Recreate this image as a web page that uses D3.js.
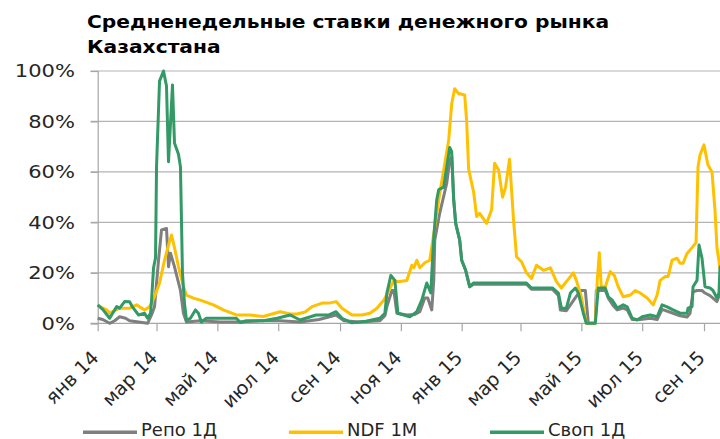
<!DOCTYPE html>
<html>
<head>
<meta charset="utf-8">
<script src="https://cdn.jsdelivr.net/npm/d3@7"></script>
<style>
  body { margin: 0; background: #fff; }
  svg { display: block; font-family: 'DejaVu Sans', Verdana, sans-serif; }
  .title { font-size: 18px; font-weight: bold; fill: #000; }
  .tick-label { font-size: 18px; fill: #262626; }
  .legend-label { font-size: 18px; fill: #262626; }
</style>
</head>
<body>
<svg></svg>
<script>
const SVG_MEASURES = {
  width: 720,
  height: 439,
  plotLeft: 97.7,
  plotTop: 71,
  plotBottom: 323.3,
  firstTickX: 97.7,
  lastTickX: 704
}

const TITLE_LINES = ['Средненедельные ставки денежного рынка', 'Казахстана']
const MONTH_NAMES = ['янв', 'фев', 'мар', 'апр', 'май', 'июн', 'июл', 'авг', 'сен', 'окт', 'ноя', 'дек']
const Y_TICKS = [0, 20, 40, 60, 80, 100]
const SERIES_NAMES = ['Репо 1Д', 'NDF 1M', 'Своп 1Д']
const SERIES_COLORS = ['#7f7f7f', '#ffc000', '#339966']

// Репо 1Д, %
const repo = [
  ['2014-01-01', 2], ['2014-01-06', 1.5], ['2014-01-13', 0], ['2014-01-18', 1], ['2014-01-23', 2.6],
  ['2014-01-29', 2], ['2014-02-02', 1], ['2014-02-11', 0.5], ['2014-02-20', 0], ['2014-02-24', 3.3],
  ['2014-02-27', 6.6], ['2014-03-03', 25], ['2014-03-06', 37], ['2014-03-11', 37.6], ['2014-03-13', 22.4],
  ['2014-03-15', 27.8], ['2014-03-19', 22.4], ['2014-03-25', 13], ['2014-03-28', 4], ['2014-03-31', 0.5],
  ['2014-04-14', 1], ['2014-05-04', 0.5], ['2014-05-24', 0.5], ['2014-06-13', 1], ['2014-07-03', 1],
  ['2014-07-23', 0.5], ['2014-08-11', 1.5], ['2014-08-28', 3.3], ['2014-09-05', 1], ['2014-09-20', 0.5],
  ['2014-10-11', 1], ['2014-10-16', 3], ['2014-10-18', 6.6], ['2014-10-23', 13], ['2014-10-25', 13],
  ['2014-10-28', 4], ['2014-11-07', 3.3], ['2014-11-15', 3.5], ['2014-11-20', 4.6], ['2014-11-25', 10],
  ['2014-11-28', 10], ['2014-12-02', 5.3], ['2014-12-04', 17], ['2014-12-05', 33], ['2014-12-10', 43.7],
  ['2014-12-17', 55.5], ['2014-12-20', 64.7], ['2014-12-22', 66], ['2014-12-24', 49], ['2014-12-26', 39.6],
  ['2014-12-30', 33], ['2015-01-01', 25], ['2015-01-05', 21], ['2015-01-09', 14.5], ['2015-01-13', 15.5],
  ['2015-03-07', 15.5], ['2015-03-12', 13.5], ['2015-04-02', 13.5], ['2015-04-08', 11], ['2015-04-10', 5.3],
  ['2015-04-16', 5], ['2015-04-23', 9], ['2015-04-30', 13], ['2015-05-05', 13], ['2015-05-08', 0],
  ['2015-05-15', 0], ['2015-05-16', 13], ['2015-05-25', 13], ['2015-05-28', 10], ['2015-06-02', 7],
  ['2015-06-06', 5.3], ['2015-06-12', 6], ['2015-06-16', 5.3], ['2015-06-21', 1.5], ['2015-06-29', 1.5],
  ['2015-07-09', 2], ['2015-07-16', 1.5], ['2015-07-21', 5.5], ['2015-08-01', 4], ['2015-08-08', 3],
  ['2015-08-15', 2.5], ['2015-08-18', 4], ['2015-08-21', 12.5], ['2015-08-25', 13], ['2015-08-30', 13],
  ['2015-09-02', 12], ['2015-09-07', 11], ['2015-09-10', 10], ['2015-09-14', 8.6], ['2015-09-17', 12],
  ['2015-09-21', 14]
]

// NDF 1M, %
const ndf = [
  ['2014-01-01', 7], ['2014-01-10', 5.3], ['2014-01-13', 4], ['2014-01-23', 6], ['2014-02-02', 6],
  ['2014-02-09', 7.3], ['2014-02-17', 5.3], ['2014-02-22', 6.6], ['2014-02-27', 10.5], ['2014-03-04', 16],
  ['2014-03-09', 25], ['2014-03-13', 31], ['2014-03-16', 35], ['2014-03-19', 30], ['2014-03-23', 22.4],
  ['2014-03-28', 14.5], ['2014-03-31', 11.2], ['2014-04-07', 10], ['2014-04-14', 9.2], ['2014-04-27', 7.3],
  ['2014-05-07', 5.3], ['2014-05-20', 3.3], ['2014-06-03', 3.3], ['2014-06-16', 2.7], ['2014-06-23', 3.5],
  ['2014-07-03', 4.6], ['2014-07-13', 3.7], ['2014-07-20', 3.7], ['2014-07-28', 4.5], ['2014-08-04', 6.6],
  ['2014-08-14', 8], ['2014-08-21', 8], ['2014-08-28', 8.6], ['2014-09-03', 6], ['2014-09-13', 3.3],
  ['2014-09-23', 3.3], ['2014-10-01', 4], ['2014-10-08', 6], ['2014-10-15', 9.2], ['2014-10-20', 13],
  ['2014-10-25', 17], ['2014-10-29', 16.5], ['2014-11-07', 17], ['2014-11-12', 23], ['2014-11-14', 22],
  ['2014-11-17', 25], ['2014-11-20', 22], ['2014-11-25', 24], ['2014-11-30', 25], ['2014-12-05', 38],
  ['2014-12-10', 51.5], ['2014-12-14', 60.8], ['2014-12-19', 72.7], ['2014-12-22', 87], ['2014-12-25', 93],
  ['2014-12-29', 91], ['2014-12-30', 91], ['2015-01-04', 90.5], ['2015-01-06', 80], ['2015-01-08', 61],
  ['2015-01-13', 52], ['2015-01-16', 42.3], ['2015-01-19', 43.6], ['2015-01-26', 39.6], ['2015-01-31', 45],
  ['2015-02-03', 63.4], ['2015-02-07', 60.8], ['2015-02-11', 50], ['2015-02-14', 54], ['2015-02-18', 65],
  ['2015-02-22', 41], ['2015-02-25', 26.4], ['2015-03-02', 24.4], ['2015-03-07', 20], ['2015-03-12', 17.8],
  ['2015-03-17', 23], ['2015-03-24', 21], ['2015-03-31', 22], ['2015-04-06', 16.5], ['2015-04-11', 14],
  ['2015-04-16', 16.5], ['2015-04-23', 20], ['2015-04-26', 17], ['2015-05-01', 10.5], ['2015-05-06', 0],
  ['2015-05-15', 0], ['2015-05-17', 17], ['2015-05-19', 28], ['2015-05-21', 14.5], ['2015-05-25', 14.5],
  ['2015-05-30', 20.5], ['2015-06-03', 19], ['2015-06-07', 14.5], ['2015-06-12', 10.5], ['2015-06-19', 11.2],
  ['2015-06-24', 13], ['2015-06-29', 12], ['2015-07-06', 10], ['2015-07-12', 7.3], ['2015-07-16', 11.2],
  ['2015-07-19', 17], ['2015-07-24', 18.5], ['2015-07-27', 18.5], ['2015-07-31', 25], ['2015-08-05', 25.8],
  ['2015-08-08', 23.8], ['2015-08-11', 23.8], ['2015-08-15', 27.7], ['2015-08-20', 30], ['2015-08-24', 32],
  ['2015-08-26', 62], ['2015-08-28', 66.7], ['2015-09-01', 70.7], ['2015-09-05', 62.7], ['2015-09-09', 60],
  ['2015-09-12', 45], ['2015-09-14', 30], ['2015-09-17', 22], ['2015-09-21', 20]
]

// Своп 1Д, %
const swap = [
  ['2014-01-01', 7.3], ['2014-01-06', 5.5], ['2014-01-13', 2], ['2014-01-16', 4], ['2014-01-20', 6.6],
  ['2014-01-23', 6], ['2014-01-28', 8.6], ['2014-02-02', 8.5], ['2014-02-05', 6.4], ['2014-02-11', 3.3],
  ['2014-02-17', 4], ['2014-02-20', 2], ['2014-02-23', 4], ['2014-02-24', 9], ['2014-02-26', 22],
  ['2014-02-28', 26], ['2014-03-01', 62], ['2014-03-04', 96], ['2014-03-08', 100], ['2014-03-11', 94],
  ['2014-03-13', 64], ['2014-03-17', 94.5], ['2014-03-19', 71.5], ['2014-03-23', 67], ['2014-03-25', 62],
  ['2014-03-27', 20], ['2014-03-29', 8], ['2014-03-31', 1.3], ['2014-04-04', 2], ['2014-04-09', 5.3],
  ['2014-04-12', 4], ['2014-04-15', 0.5], ['2014-04-20', 2], ['2014-05-04', 2], ['2014-05-20', 2],
  ['2014-05-24', 0.3], ['2014-05-30', 1], ['2014-06-16', 1], ['2014-06-30', 2], ['2014-07-13', 3.3],
  ['2014-07-23', 1.3], ['2014-08-08', 3.3], ['2014-08-21', 3.3], ['2014-08-28', 4.6], ['2014-09-03', 2],
  ['2014-09-13', 0.2], ['2014-09-27', 0.8], ['2014-10-11', 2], ['2014-10-16', 4], ['2014-10-18', 12],
  ['2014-10-22', 19], ['2014-10-26', 17], ['2014-10-29', 4], ['2014-11-10', 2.6], ['2014-11-17', 4.6],
  ['2014-11-22', 9.2], ['2014-11-27', 16], ['2014-12-01', 12], ['2014-12-04', 34], ['2014-12-07', 49],
  ['2014-12-09', 53], ['2014-12-14', 54], ['2014-12-17', 62], ['2014-12-20', 69.7], ['2014-12-22', 68],
  ['2014-12-24', 49], ['2014-12-26', 39.6], ['2014-12-30', 33], ['2015-01-01', 25], ['2015-01-05', 21],
  ['2015-01-09', 14.5], ['2015-01-13', 16], ['2015-01-30', 16], ['2015-02-19', 16], ['2015-03-07', 16],
  ['2015-03-12', 14], ['2015-04-02', 14], ['2015-04-08', 12], ['2015-04-11', 6], ['2015-04-16', 6],
  ['2015-04-20', 12], ['2015-04-25', 14], ['2015-04-28', 12], ['2015-05-03', 4], ['2015-05-06', 0],
  ['2015-05-15', 0], ['2015-05-18', 14], ['2015-05-25', 14], ['2015-05-28', 10.5], ['2015-06-01', 9.2],
  ['2015-06-06', 6], ['2015-06-12', 7.3], ['2015-06-16', 6.5], ['2015-06-21', 2], ['2015-06-26', 1.3],
  ['2015-07-01', 2.6], ['2015-07-09', 3.3], ['2015-07-16', 2.6], ['2015-07-21', 7.3], ['2015-07-26', 6.5],
  ['2015-08-01', 5.3], ['2015-08-08', 4], ['2015-08-15', 4], ['2015-08-16', 6], ['2015-08-20', 6.6],
  ['2015-08-21', 14.5], ['2015-08-25', 17], ['2015-08-27', 31], ['2015-08-30', 25.8], ['2015-09-02', 14.5],
  ['2015-09-07', 14], ['2015-09-10', 13], ['2015-09-14', 10], ['2015-09-16', 12], ['2015-09-17', 22],
  ['2015-09-21', 25]
]

const parseDate = d3.timeParse('%Y-%m-%d')

let canvas, xScale, yScale

window.addEventListener('load', () => {
  canvas = d3.select('svg')
    .attr('width', SVG_MEASURES.width)
    .attr('height', SVG_MEASURES.height)

  setScales()
  displayTitle()
  displayGrid()
  displayAxis()
  displayLines()
  displayLegend()
})

function setScales() {
  xScale = d3.scaleTime()
    .domain([parseDate('2014-01-01'), parseDate('2015-09-01')])
    .range([SVG_MEASURES.firstTickX, SVG_MEASURES.lastTickX])

  yScale = d3.scaleLinear()
    .domain([0, 100])
    .range([SVG_MEASURES.plotBottom, SVG_MEASURES.plotTop])
}

function displayTitle() {
  // the original lettering is a bit wider than DejaVu, so stretch it sideways
  canvas.append('g').selectAll('text')
    .data(TITLE_LINES)
    .enter()
    .append('text')
    .attr('class', 'title')
    .attr('transform', (d, i) => `translate(87, ${28 + i * 25}) scale(1.125, 1)`)
    .text(d => d)
}

function displayGrid() {
  canvas.append('g').selectAll('line')
    .data(Y_TICKS.filter(d => d > 0))
    .enter()
    .append('line')
    .attr('x1', SVG_MEASURES.plotLeft - 7)
    .attr('x2', SVG_MEASURES.width)
    .attr('y1', d => yScale(d))
    .attr('y2', d => yScale(d))
    .attr('stroke', '#b3b3b3')
    .attr('stroke-width', 1.2)
}

function displayAxis() {
  const yAxis = d3.axisLeft(yScale)
    .tickValues(Y_TICKS)
    .tickSize(7)
    .tickFormat('')

  const yAxisGroup = canvas.append('g')
    .attr('transform', `translate(${SVG_MEASURES.plotLeft}, 0)`)
    .call(yAxis)
  yAxisGroup.select('.domain').attr('stroke', '#a6a6a6').attr('stroke-width', 1.2)
  yAxisGroup.selectAll('.tick line').attr('stroke', '#a6a6a6').attr('stroke-width', 1.2)

  canvas.append('g').selectAll('text')
    .data(Y_TICKS)
    .enter()
    .append('text')
    .attr('class', 'tick-label')
    .attr('text-anchor', 'end')
    .attr('dy', '0.36em')
    .attr('transform', d => `translate(75, ${yScale(d)}) scale(1.17, 1)`)
    .text(d => d + '%')

  const tickDates = d3.timeMonth.every(2).range(parseDate('2014-01-01'), parseDate('2015-10-01'))
  const xAxis = d3.axisBottom(xScale)
    .tickValues(tickDates)
    .tickSize(8)
    .tickSizeOuter(0)
    .tickFormat('')

  const xAxisGroup = canvas.append('g')
    .attr('transform', `translate(0, ${SVG_MEASURES.plotBottom})`)
    .call(xAxis)
  xAxisGroup.select('.domain')
    .attr('d', `M${SVG_MEASURES.plotLeft - 7},0H${SVG_MEASURES.width}`)
    .attr('stroke', '#a6a6a6')
    .attr('stroke-width', 1.2)
  xAxisGroup.selectAll('.tick line').attr('stroke', '#a6a6a6').attr('stroke-width', 1.2)

  canvas.append('g').selectAll('text')
    .data(tickDates)
    .enter()
    .append('text')
    .attr('class', 'tick-label')
    .style('font-size', '19px')
    .attr('text-anchor', 'end')
    .attr('transform', d => `translate(${xScale(d) + 2}, 359) rotate(-45)`)
    .text(d => `${MONTH_NAMES[d.getMonth()]} ${String(d.getFullYear()).slice(2)}`)
}

function displayLines() {
  const line = d3.line()
    .x(d => xScale(parseDate(d[0])))
    .y(d => yScale(d[1]))

  canvas.append('g').selectAll('path')
    .data([repo, ndf, swap])
    .enter()
    .append('path')
    .attr('d', d => line(d))
    .attr('fill', 'none')
    .attr('stroke', (d, i) => SERIES_COLORS[i])
    .attr('stroke-width', 3)
    .attr('stroke-linejoin', 'round')
}

function displayLegend() {
  const positions = [83, 289, 490]
  const legend = canvas.append('g').attr('transform', 'translate(0, 432.3)')

  const items = legend.selectAll('g')
    .data(SERIES_NAMES)
    .enter()
    .append('g')
    .attr('transform', (d, i) => `translate(${positions[i]}, 0)`)

  items.append('line')
    .attr('x1', 0)
    .attr('x2', 54)
    .attr('stroke', (d, i) => SERIES_COLORS[i])
    .attr('stroke-width', 3.5)

  items.append('text')
    .attr('class', 'legend-label')
    .attr('x', 58)
    .attr('y', 3.4)
    .text(d => d)
}
</script>
</body>
</html>
